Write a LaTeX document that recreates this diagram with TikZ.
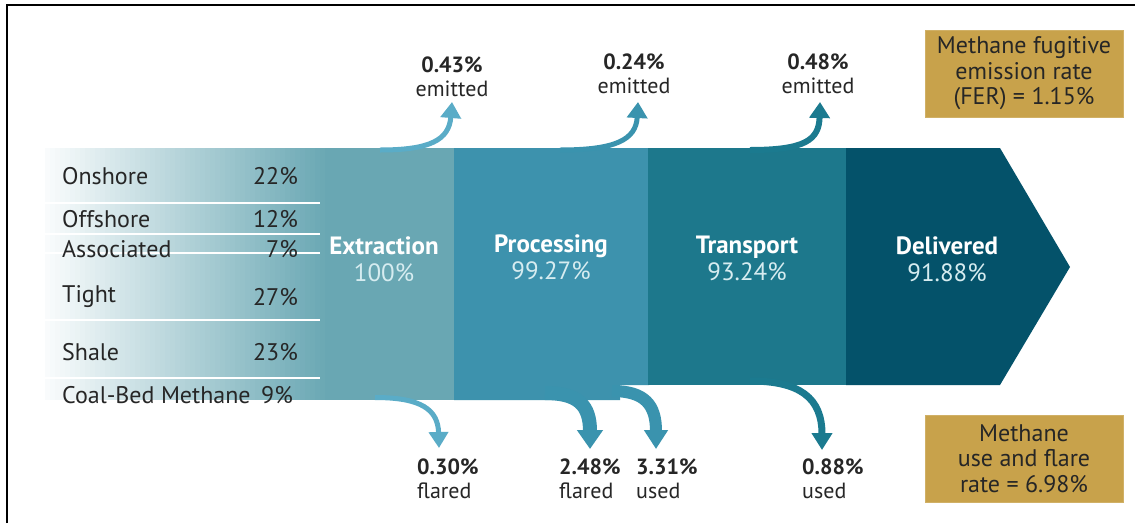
\documentclass[tikz,border=0pt]{standalone}
\usepackage{fontspec}
\setmainfont{PT Sans}
\usetikzlibrary{arrows.meta}
\definecolor{cext}{HTML}{69A7B3}
\definecolor{cproc}{HTML}{3D92AD}
\definecolor{ctrans}{HTML}{1D788C}
\definecolor{cdel}{HTML}{04526A}
\definecolor{aone}{HTML}{5AACC7}
\definecolor{atwo}{HTML}{3A93AE}
\definecolor{athree}{HTML}{1B7A8F}
\definecolor{cbox}{HTML}{C8A24B}
\definecolor{ctext}{HTML}{262626}
\definecolor{clight}{HTML}{D6ECF0}
\tikzset{
  lbl/.style={font=\fontsize{22}{24}\selectfont, text=ctext, inner sep=0pt, align=center},
  lblL/.style={font=\fontsize{22}{24}\selectfont, text=ctext, inner sep=0pt, align=left, anchor=west},
  src/.style={font=\fontsize{24}{26}\selectfont, text=ctext, inner sep=0pt, anchor=west},
  srcp/.style={font=\fontsize{24}{26}\selectfont, text=ctext, inner sep=0pt, anchor=east},
  sect/.style={font=\fontsize{25}{27}\selectfont, text=white, inner sep=0pt, align=center},
  infobox/.style={fill=cbox, draw=cbox!85!white, line width=1pt, font=\fontsize{24}{25.5}\selectfont, text=ctext, align=center, inner sep=0pt},
  sepline/.style={fill=white, draw=none},
  flow/.style={line cap=butt}
}
\begin{document}
\begin{tikzpicture}[x=1pt,y=-1pt]
\useasboundingbox (0,0) rectangle (1135,523);
\fill[white] (0,0) rectangle (1135,523);
% frame
\draw[line width=2pt] (7,523) -- (7,5) -- (1135,5);

% band sections (gradient built from thin strips)
\foreach \i in {0,...,56} {
  \pgfmathsetmacro{\pc}{min(100,4+\i*96/56)}
  \fill[cext!\pc!white] ({45+\i*5},148) rectangle ({45+\i*5+5.6},400);
}
\fill[cext] (329,148) rectangle (455,400);
\fill[cproc] (454,148) -- (649,148) -- (649,385) -- (620,385) -- (620,400) -- (454,400) -- cycle;
\fill[ctrans] (648,148) rectangle (847,385);
\fill[cdel] (846,148) -- (1000,148) -- (1070,267) -- (1000,385) -- (846,385) -- cycle;

% separator lines
\foreach \yy in {203,234,253,320,378}
  \fill[sepline] (45,\yy-0.8) rectangle (320,\yy+0.8);

% source rows
\node[src] (on) at (62,176) {Onshore};
\node[srcp] (onp) at (298,176) {22\%};
\node[src] (off) at (62,219) {Offshore};
\node[srcp] (offp) at (298,219) {12\%};
\node[src] (as) at (62,249) {Associated};
\node[srcp] (asp) at (298,249) {7\%};
\node[src] (ti) at (62,297) {Tight};
\node[srcp] (tip) at (298,297) {27\%};
\node[src] (sh) at (62,352) {Shale};
\node[srcp] (shp) at (298,352) {23\%};
\node[src] (cb) at (62,395) {Coal-Bed Methane};
\node[srcp] (cbp) at (293,395) {9\%};

% section labels
\node[sect] (ext) at (384,259) {\textbf{Extraction}\\\textcolor{clight}{100\%}};
\node[sect] (proc) at (551,257) {\textbf{Processing}\\\textcolor{clight}{99.27\%}};
\node[sect] (trans) at (747,258) {\textbf{Transport}\\\textcolor{clight}{93.24\%}};
\node[sect] (deliv) at (947,259) {\textbf{Delivered}\\\textcolor{clight}{91.88\%}};

% top labels
\node[lbl] (e1) at (452,77) {\textbf{0.43\%}\\emitted};
\node[lbl] (e2) at (634,74) {\textbf{0.24\%}\\emitted};
\node[lbl] (e3) at (818,74) {\textbf{0.48\%}\\emitted};

% bottom labels
\node[lblL] (f1) at (417,479) {\textbf{0.30\%}\\flared};
\node[lblL] (f2) at (559,479) {\textbf{2.48\%}\\flared};
\node[lblL] (u1) at (636,479) {\textbf{3.31\%}\\used};
\node[lblL] (u2) at (802,479) {\textbf{0.88\%}\\used};

% boxes
\node[infobox, minimum width=198pt, minimum height=87pt] (fer) at (1024,73.5)
  {Methane fugitive\\emission rate\\(FER) = 1.15\%};
\node[infobox, minimum width=198pt, minimum height=87pt] (ufr) at (1024,458.5)
  {Methane\\use and flare\\rate = 6.98\%};

% arrow coordinates
\coordinate (s1) at (380,150);
\coordinate (t1) at (452,102);
\coordinate (s2) at (560,150);
\coordinate (t2) at (638,102);
\coordinate (s3) at (750,150);
\coordinate (t3) at (820,102);
\coordinate (b1) at (375,397.5);
\coordinate (d1) at (439,448);
\coordinate (b2) at (545,393);
\coordinate (d2) at (590,449);
\coordinate (b3) at (612,391);
\coordinate (d3) at (656,449);
\coordinate (b4) at (750,381);
\coordinate (d4) at (822,450);

% emitted arrows
\draw[flow, aone, line width=5pt, -{Triangle[width=20pt,length=16pt]}]
  (s1) .. controls (430,150) and (449,140) .. (t1);
\draw[flow, atwo, line width=5pt, -{Triangle[width=20pt,length=16pt]}]
  (s2) .. controls (615,150) and (636,140) .. (t2);
\draw[flow, athree, line width=6pt, -{Triangle[width=20pt,length=16pt]}]
  (s3) .. controls (805,150) and (819,140) .. (t3);

% flared / used arrows
\draw[flow, aone, line width=5pt, -{Triangle[width=19pt,length=16pt]}]
  (b1) .. controls (422,397.5) and (438,410) .. (d1);
\draw[flow, atwo, line width=14pt, -{Triangle[width=25pt,length=19pt]}]
  (b2) .. controls (578,393) and (590,405) .. (d2);
\draw[flow, atwo, line width=12pt, -{Triangle[width=23pt,length=19pt]}]
  (b3) .. controls (645,391) and (656,405) .. (d3);
\draw[flow, athree, line width=7pt, -{Triangle[width=20pt,length=17pt]}]
  (b4) .. controls (800,381) and (822,398) .. (d4);
\end{tikzpicture}
\end{document}
